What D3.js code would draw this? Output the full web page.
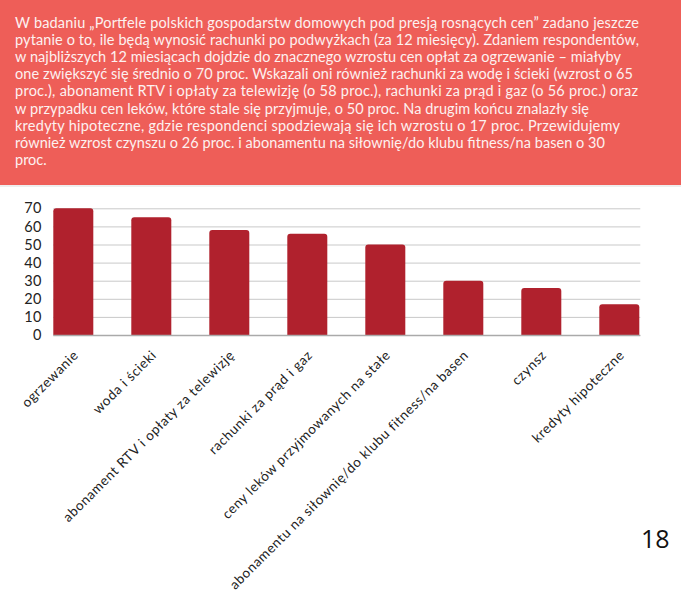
<!DOCTYPE html>
<html>
<head>
<meta charset="utf-8">
<script src="https://cdn.jsdelivr.net/npm/d3@7"></script>
<style>
  html, body { margin: 0; padding: 0; background: #fff; }
  svg { display: block; }
</style>
</head>
<body>
<svg id="chart" width="681" height="598"></svg>
<script>
const categories = [
  "ogrzewanie",
  "woda i ścieki",
  "abonament RTV i opłaty za telewizję",
  "rachunki za prąd i gaz",
  "ceny leków przyjmowanych na stałe",
  "abonamentu na siłownię/do klubu fitness/na basen",
  "czynsz",
  "kredyty hipoteczne"
];
const values = [70, 65, 58, 56, 50, 30, 26, 17];
const yTicks = [0, 10, 20, 30, 40, 50, 60, 70];
const headerLines = [
  "W badaniu „Portfele polskich gospodarstw domowych pod presją rosnących cen” zadano jeszcze",
  "pytanie o to, ile będą wynosić rachunki po podwyżkach (za 12 miesięcy). Zdaniem respondentów,",
  "w najbliższych 12 miesiącach dojdzie do znacznego wzrostu cen opłat za ogrzewanie – miałyby",
  "one zwiększyć się średnio o 70 proc. Wskazali oni również rachunki za wodę i ścieki (wzrost o 65",
  "proc.), abonament RTV i opłaty za telewizję (o 58 proc.), rachunki za prąd i gaz (o 56 proc.) oraz",
  "w przypadku cen leków, które stale się przyjmuje, o 50 proc. Na drugim końcu znalazły się",
  "kredyty hipoteczne, gdzie respondenci spodziewają się ich wzrostu o 17 proc. Przewidujemy",
  "również wzrost czynszu o 26 proc. i abonamentu na siłownię/do klubu fitness/na basen o 30",
  "proc."
];
// text layout: approximate rendered width of each wrapped header line (null = natural)
const headerLineWidths = [624, 624, 606, 618, 623, 574, 605, 590, null];
const pageNumber = "18";

const svg = d3.select("#chart");

// Header block
svg.append("rect").attr("x", 0).attr("y", 0).attr("width", 681).attr("height", 185).attr("fill", "#ee5e58");
svg.append("rect").attr("x", 0).attr("y", 185).attr("width", 681).attr("height", 2).attr("fill", "#eeeeee");
svg.append("g")
  .selectAll("text")
  .data(headerLines)
  .join("text")
  .attr("x", 15)
  .attr("y", (d, i) => 28 + i * 17.1)
  .attr("fill", "#fdf1f0")
  .attr("font-family", "Lato, 'Noto Sans', sans-serif")
  .attr("font-size", 14.5)
  .each(function (d, i) {
    if (headerLineWidths[i]) {
      d3.select(this).attr("textLength", headerLineWidths[i]).attr("lengthAdjust", "spacing");
    }
  })
  .text(d => d);

// Scales
const x0 = 53.3, x1 = 639.3;
const x = d3.scaleBand().domain(categories).range([x0, x1]).paddingInner(38 / 78).paddingOuter(0);
const y = d3.scaleLinear().domain([0, 70]).range([335, 208.3]);

// Gridlines
const grid = svg.append("g").attr("transform", `translate(${x0},0)`)
  .call(d3.axisLeft(y).tickValues(yTicks).tickSize(-(x1 - x0 + 1)).tickFormat(""));
grid.select(".domain").remove();
grid.selectAll("line").attr("stroke", "#c9c9c9").attr("stroke-width", 1);

// Y labels
const yAx = svg.append("g").attr("transform", "translate(42,0)")
  .call(d3.axisLeft(y).tickValues(yTicks).tickSize(0).tickPadding(0));
yAx.select(".domain").remove();
yAx.selectAll("text")
  .attr("fill", "#222")
  .attr("font-family", "Lato, 'Noto Sans', sans-serif")
  .attr("font-size", 14.5)
  .attr("letter-spacing", 0.5);

// Bars with rounded tops
const r = 3;
svg.append("g").selectAll("path")
  .data(categories.map((c, i) => ({ c, v: values[i] })))
  .join("path")
  .attr("fill", "#b0212d")
  .attr("d", d => {
    const bx = x(d.c), bw = x.bandwidth(), top = y(d.v), bot = y(0);
    return `M${bx},${bot}V${top + r}Q${bx},${top} ${bx + r},${top}H${bx + bw - r}Q${bx + bw},${top} ${bx + bw},${top + r}V${bot}Z`;
  });

// X axis
const xAx = svg.append("g").attr("transform", `translate(0,${y(0)})`)
  .call(d3.axisBottom(x).tickSize(0).tickPadding(0));
xAx.select(".domain").attr("stroke", "#aaaaaa").attr("stroke-width", 1.5)
  .attr("d", `M${x0},0.5H${x1 + 1}`);
xAx.selectAll("text")
  .attr("fill", "#222")
  .attr("font-family", "Lato, 'Noto Sans', sans-serif")
  .attr("font-size", 13.5)
  .attr("letter-spacing", 0.6)
  .attr("text-anchor", "end")
  .attr("x", 0).attr("y", 0).attr("dy", 0)
  .attr("transform", "translate(6,21) rotate(-45)");

// Page number
svg.append("text")
  .attr("x", 641).attr("y", 548)
  .attr("fill", "#111")
  .attr("font-family", "'Open Sans', 'Noto Sans', sans-serif")
  .attr("font-size", 25)
  .text(pageNumber);
</script>
</body>
</html>
